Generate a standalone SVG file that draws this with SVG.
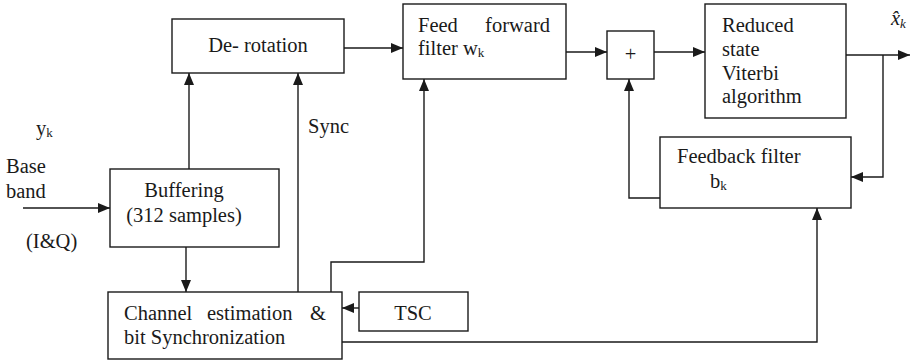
<svg xmlns="http://www.w3.org/2000/svg" width="915" height="363" viewBox="0 0 915 363">
  <defs>
    <marker id="arrow" viewBox="0 0 12 10" refX="12" refY="5" markerWidth="12" markerHeight="10" markerUnits="userSpaceOnUse" orient="auto">
      <path d="M0,0 L12,5 L0,10 Z" fill="#1a1a1a"/>
    </marker>
  </defs>
  <style>
    .box { fill: #ffffff; stroke: #1a1a1a; stroke-width: 1.4; }
    .wire { fill: none; stroke: #1a1a1a; stroke-width: 1.4; }
    .arr { marker-end: url(#arrow); }
    text { font-family: 'Liberation Serif', 'DejaVu Serif', 'Times New Roman', serif; font-size: 20.5px; fill: #1a1a1a; }
    .sub { font-size: 13px; }
    .it { font-style: italic; }
  </style>
  <rect width="915" height="363" fill="#ffffff"/>

  <!-- connectors -->
  <g id="connectors">
    <path class="wire arr" d="M23,208 H110"/>
    <path class="wire arr" d="M189,169 V73"/>
    <path class="wire arr" d="M186,247 V292"/>
    <path class="wire arr" d="M298,292 V73"/>
    <path class="wire arr" d="M344,48 H403"/>
    <path class="wire arr" d="M331,292 V262 H424 V79"/>
    <path class="wire arr" d="M359,308 H342"/>
    <path class="wire arr" d="M342,342 H817 V208"/>
    <path class="wire arr" d="M566,52 H607"/>
    <path class="wire arr" d="M654,52 H705"/>
    <path class="wire arr" d="M846,55 H910"/>
    <path class="wire arr" d="M883,55 V177 H851"/>
    <path class="wire arr" d="M660,198 H629 V79"/>
  </g>

  <!-- free labels -->
  <g id="labels">
    <text x="36" y="135">y<tspan class="sub" dy="2">k</tspan></text>
    <text x="6" y="173">Base</text>
    <text x="6" y="198">band</text>
    <text x="26" y="248">(I&amp;Q)</text>
    <text x="308" y="133">Sync</text>
    <text class="it" x="891" y="25">x&#x302;<tspan class="sub" dy="3">k</tspan></text>
  </g>

  <g id="derotation">
    <rect class="box" x="172" y="19" width="172" height="54"/>
    <text x="258" y="52" text-anchor="middle">De- rotation</text>
  </g>

  <g id="buffering">
    <rect class="box" x="110" y="169" width="169" height="78"/>
    <text x="184" y="197" text-anchor="middle">Buffering</text>
    <text x="184" y="222" text-anchor="middle">(312 samples)</text>
  </g>

  <g id="channel-estimation">
    <rect class="box" x="108" y="292" width="234" height="67"/>
    <text x="124" y="320">Channel</text>
    <text x="207" y="320">estimation</text>
    <text x="310" y="320">&amp;</text>
    <text x="124" y="344">bit Synchronization</text>
  </g>

  <g id="tsc">
    <rect class="box" x="359" y="292" width="109" height="39"/>
    <text x="413" y="320" text-anchor="middle">TSC</text>
  </g>

  <g id="feed-forward">
    <rect class="box" x="403" y="4" width="163" height="75"/>
    <text x="418" y="32">Feed</text>
    <text x="550" y="32" text-anchor="end">forward</text>
    <text x="418" y="55">filter w<tspan class="sub" dy="2">k</tspan></text>
  </g>

  <g id="adder">
    <rect class="box" x="607" y="31" width="47" height="48"/>
    <text x="630.5" y="61" text-anchor="middle">+</text>
  </g>

  <g id="viterbi">
    <rect class="box" x="705" y="4" width="141" height="114"/>
    <text x="722" y="32">Reduced</text>
    <text x="722" y="56">state</text>
    <text x="722" y="80">Viterbi</text>
    <text x="722" y="103">algorithm</text>
  </g>

  <g id="feedback">
    <rect class="box" x="660" y="137" width="191" height="71"/>
    <text x="677" y="163">Feedback filter</text>
    <text x="710" y="188">b<tspan class="sub" dy="2">k</tspan></text>
  </g>
</svg>
